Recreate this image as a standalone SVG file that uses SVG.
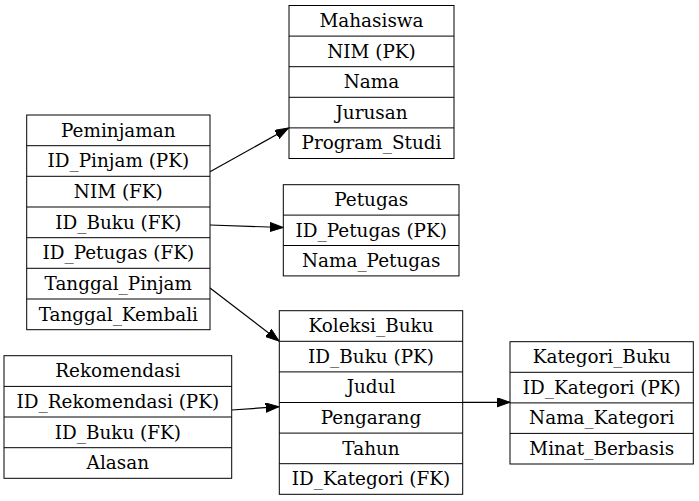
<svg xmlns="http://www.w3.org/2000/svg" width="699" height="501" viewBox="0 0 699 501">
<style>
  .box { fill: #ffffff; stroke: #000000; stroke-width: 1; }
  .sep { stroke: #000000; stroke-width: 1; }
  .t { font-family: "DejaVu Serif", serif; font-size: 18.4px; text-anchor: middle; fill: #000000; }
  .edge { stroke: #000000; stroke-width: 1.2; fill: none; }
</style>
<defs>
  <marker id="arr" markerUnits="userSpaceOnUse" markerWidth="14" markerHeight="10" refX="13.3" refY="4.7" orient="auto">
    <path d="M0,0 L13.3,4.7 L0,9.4 z" fill="#000000" stroke="#000000" stroke-width="1"/>
  </marker>
</defs>
<rect width="699" height="501" fill="#ffffff"/>

<g id="connectors">
  <line class="edge" x1="210" y1="171.7" x2="288.5" y2="128" marker-end="url(#arr)"/>
  <line class="edge" x1="210" y1="225" x2="283" y2="227.5" marker-end="url(#arr)"/>
  <line class="edge" x1="210" y1="288" x2="279" y2="341" marker-end="url(#arr)"/>
  <line class="edge" x1="231.7" y1="410" x2="279" y2="406.7" marker-end="url(#arr)"/>
  <line class="edge" x1="462.7" y1="402.3" x2="510" y2="402.3" marker-end="url(#arr)"/>
</g>

<g id="Mahasiswa">
  <rect class="box" x="289" y="5.5" width="165" height="153"/>
  <line class="sep" x1="289" y1="36.1" x2="454" y2="36.1"/>
  <line class="sep" x1="289" y1="66.7" x2="454" y2="66.7"/>
  <line class="sep" x1="289" y1="97.3" x2="454" y2="97.3"/>
  <line class="sep" x1="289" y1="127.9" x2="454" y2="127.9"/>
  <text class="t" x="371.5" y="27">Mahasiswa</text>
  <text class="t" x="371.5" y="57.6">NIM (PK)</text>
  <text class="t" x="371.5" y="88.2">Nama</text>
  <text class="t" x="371.5" y="118.8">Jurusan</text>
  <text class="t" x="371.5" y="149.4">Program_Studi</text>
</g>

<g id="Peminjaman">
  <rect class="box" x="26.7" y="115" width="183.3" height="214.7"/>
  <line class="sep" x1="26.7" y1="145.7" x2="210" y2="145.7"/>
  <line class="sep" x1="26.7" y1="176.3" x2="210" y2="176.3"/>
  <line class="sep" x1="26.7" y1="207" x2="210" y2="207"/>
  <line class="sep" x1="26.7" y1="237.7" x2="210" y2="237.7"/>
  <line class="sep" x1="26.7" y1="268.3" x2="210" y2="268.3"/>
  <line class="sep" x1="26.7" y1="299" x2="210" y2="299"/>
  <text class="t" x="118.3" y="136.5">Peminjaman</text>
  <text class="t" x="118.3" y="167.2">ID_Pinjam (PK)</text>
  <text class="t" x="118.3" y="197.8">NIM (FK)</text>
  <text class="t" x="118.3" y="228.5">ID_Buku (FK)</text>
  <text class="t" x="118.3" y="259.2">ID_Petugas (FK)</text>
  <text class="t" x="118.3" y="289.8">Tanggal_Pinjam</text>
  <text class="t" x="118.3" y="320.5">Tanggal_Kembali</text>
</g>

<g id="Petugas">
  <rect class="box" x="283.3" y="184.7" width="175.7" height="91.2"/>
  <line class="sep" x1="283.3" y1="215.1" x2="459" y2="215.1"/>
  <line class="sep" x1="283.3" y1="245.5" x2="459" y2="245.5"/>
  <text class="t" x="371.2" y="206.1">Petugas</text>
  <text class="t" x="371.2" y="236.5">ID_Petugas (PK)</text>
  <text class="t" x="371.2" y="266.9">Nama_Petugas</text>
</g>

<g id="Koleksi_Buku">
  <rect class="box" x="279.3" y="310.7" width="183.4" height="183.6"/>
  <line class="sep" x1="279.3" y1="341.3" x2="462.7" y2="341.3"/>
  <line class="sep" x1="279.3" y1="371.9" x2="462.7" y2="371.9"/>
  <line class="sep" x1="279.3" y1="402.5" x2="462.7" y2="402.5"/>
  <line class="sep" x1="279.3" y1="433.1" x2="462.7" y2="433.1"/>
  <line class="sep" x1="279.3" y1="463.7" x2="462.7" y2="463.7"/>
  <text class="t" x="371" y="332.2">Koleksi_Buku</text>
  <text class="t" x="371" y="362.8">ID_Buku (PK)</text>
  <text class="t" x="371" y="393.4">Judul</text>
  <text class="t" x="371" y="424">Pengarang</text>
  <text class="t" x="371" y="454.6">Tahun</text>
  <text class="t" x="371" y="485.2">ID_Kategori (FK)</text>
</g>

<g id="Rekomendasi">
  <rect class="box" x="4" y="355.7" width="227.7" height="122.6"/>
  <line class="sep" x1="4" y1="386.4" x2="231.7" y2="386.4"/>
  <line class="sep" x1="4" y1="417" x2="231.7" y2="417"/>
  <line class="sep" x1="4" y1="447.7" x2="231.7" y2="447.7"/>
  <text class="t" x="117.8" y="377.2">Rekomendasi</text>
  <text class="t" x="117.8" y="407.9">ID_Rekomendasi (PK)</text>
  <text class="t" x="117.8" y="438.5">ID_Buku (FK)</text>
  <text class="t" x="117.8" y="469.2">Alasan</text>
</g>

<g id="Kategori_Buku">
  <rect class="box" x="510" y="341.7" width="183.3" height="122.3"/>
  <line class="sep" x1="510" y1="372.3" x2="693.3" y2="372.3"/>
  <line class="sep" x1="510" y1="402.9" x2="693.3" y2="402.9"/>
  <line class="sep" x1="510" y1="433.4" x2="693.3" y2="433.4"/>
  <text class="t" x="601.7" y="363.2">Kategori_Buku</text>
  <text class="t" x="601.7" y="393.8">ID_Kategori (PK)</text>
  <text class="t" x="601.7" y="424.4">Nama_Kategori</text>
  <text class="t" x="601.7" y="454.9">Minat_Berbasis</text>
</g>
</svg>
